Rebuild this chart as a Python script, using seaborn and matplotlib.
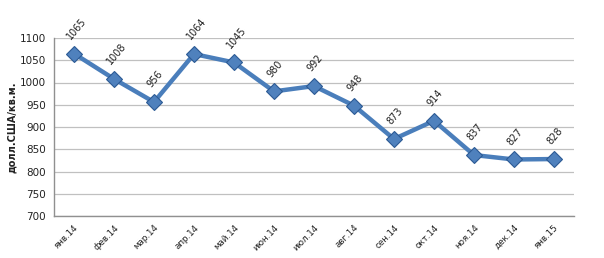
import matplotlib
matplotlib.use("Agg")
import matplotlib.pyplot as plt
import seaborn as sns
import pandas as pd
import numpy as np

months = ["янв.14", "фев.14", "мар.14", "апр.14", "май.14", "июн.14", "июл.14",
          "авг.14", "сен.14", "окт.14", "ноя.14", "дек.14", "янв.15"]
values = [1065, 1008, 956, 1064, 1045, 980, 992, 948, 873, 914, 837, 827, 828]
y_ticks = [700, 750, 800, 850, 900, 950, 1000, 1050, 1100]
y_label = "долл.США/кв.м."

sns.set_style("white")
plt.rcParams['font.family'] = ['DejaVu Sans']

df = pd.DataFrame({"pos": np.arange(len(months)), "value": values})

fig = plt.figure(figsize=(6.04, 2.58), dpi=100)
ax = fig.add_axes([54/604, 1-216/258, 520/604, 178/258])

line_color = "#4a7ebb"
sns.lineplot(data=df, x="pos", y="value", ax=ax, color=line_color, linewidth=3.2,
             marker="D", markersize=8, markerfacecolor="#4f81bd",
             markeredgecolor="#2c5a94", markeredgewidth=0.8, zorder=3)

for x, v in zip(df["pos"], df["value"]):
    ax.annotate(str(v), (x, v), xytext=(-1, 9), textcoords="offset points",
                rotation=50, ha="left", va="bottom", fontsize=7, color="#222222",
                rotation_mode="anchor")

ax.set_xlim(-0.5, len(months) - 0.5)
ax.set_ylim(700, 1100)
ax.set_yticks(y_ticks)
ax.set_yticklabels([str(t) for t in y_ticks], fontsize=7.5, color="#222222")
ax.yaxis.grid(True, color="#c0c0c0", linewidth=0.9)
ax.set_axisbelow(True)

ax.set_xticks(np.arange(len(months)))
ax.set_xticklabels(months, rotation=45, ha="right", rotation_mode="anchor",
                   fontsize=6.3, color="#222222")
ax.tick_params(axis="x", length=0, pad=5)
ax.set_xticks(np.arange(-0.5, len(months)), minor=True)
ax.tick_params(axis="x", which="minor", length=4, color="#909090", direction="out")
ax.tick_params(axis="y", length=4, color="#909090", direction="out", pad=2)

ax.set_xlabel("")
ax.set_ylabel(y_label, fontsize=7, fontweight="bold", color="#222222", labelpad=2)

for s in ["top", "right"]:
    ax.spines[s].set_visible(False)
for s in ["left", "bottom"]:
    ax.spines[s].set_color("#909090")
    ax.spines[s].set_linewidth(1)

fig.savefig("out.png", dpi=100, facecolor="white")
